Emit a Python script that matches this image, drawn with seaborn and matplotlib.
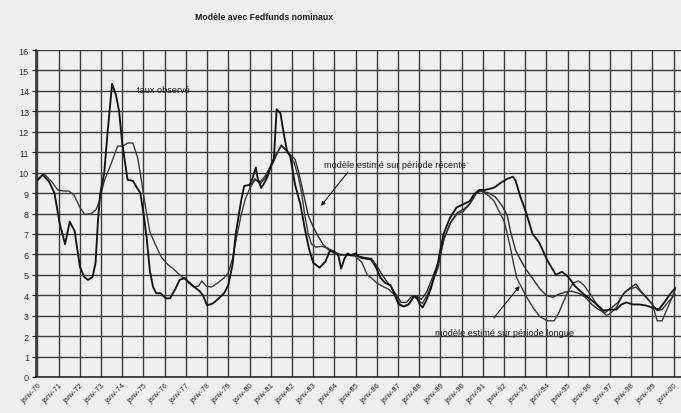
import matplotlib
matplotlib.use("Agg")
import matplotlib.pyplot as plt
import seaborn as sns
import pandas as pd

# (decimal year, rate in %) for each series
taux_observe = [
    (1970.0, 9.65), (1970.25, 9.9), (1970.55, 9.55), (1970.8, 9.0), (1971.05, 7.5),
    (1971.3, 6.5), (1971.52, 7.6), (1971.75, 7.15), (1972.0, 5.4), (1972.2, 4.9),
    (1972.38, 4.75), (1972.6, 4.9), (1972.74, 5.6), (1972.85, 7.6), (1972.95, 8.9),
    (1973.15, 10.0), (1973.3, 11.9), (1973.52, 14.35), (1973.7, 13.8), (1973.85, 13.0),
    (1974.0, 11.4), (1974.25, 9.65), (1974.5, 9.6), (1974.7, 9.25), (1974.85, 9.0),
    (1975.0, 8.0), (1975.15, 6.8), (1975.3, 5.2), (1975.45, 4.4), (1975.6, 4.1),
    (1975.8, 4.1), (1976.05, 3.85), (1976.25, 3.85), (1976.5, 4.3), (1976.7, 4.75),
    (1976.95, 4.85), (1977.15, 4.6), (1977.4, 4.4), (1977.65, 4.2), (1977.8, 4.0),
    (1978.0, 3.5), (1978.27, 3.6), (1978.5, 3.8), (1978.8, 4.1), (1979.0, 4.5),
    (1979.2, 5.5), (1979.35, 7.0), (1979.6, 8.6), (1979.75, 9.35), (1980.0, 9.4),
    (1980.15, 9.75), (1980.3, 10.25), (1980.38, 9.75), (1980.55, 9.25), (1980.7, 9.5),
    (1980.85, 9.8), (1981.0, 10.3), (1981.15, 10.7), (1981.28, 13.1), (1981.46, 12.9),
    (1981.6, 12.0), (1981.77, 11.05), (1981.92, 10.8), (1982.15, 9.4), (1982.4, 8.45),
    (1982.6, 7.3), (1982.8, 6.3), (1983.0, 5.6), (1983.3, 5.35), (1983.58, 5.65),
    (1983.8, 6.2), (1983.97, 6.15), (1984.12, 6.05), (1984.2, 5.9), (1984.32, 5.3),
    (1984.48, 5.8), (1984.63, 6.05), (1984.78, 5.95), (1985.0, 6.05), (1985.2, 5.85),
    (1985.42, 5.8), (1985.73, 5.75), (1985.95, 5.4), (1986.18, 4.85), (1986.4, 4.6),
    (1986.65, 4.5), (1986.88, 3.95), (1987.03, 3.55), (1987.27, 3.45), (1987.5, 3.55),
    (1987.76, 3.95), (1987.92, 3.85), (1988.03, 3.55), (1988.16, 3.4), (1988.32, 3.7),
    (1988.56, 4.35), (1988.87, 5.5), (1989.15, 7.0), (1989.46, 7.8), (1989.77, 8.3),
    (1990.08, 8.45), (1990.38, 8.6), (1990.6, 8.95), (1990.83, 9.15), (1991.08, 9.15),
    (1991.3, 9.2), (1991.54, 9.27), (1991.85, 9.5), (1992.16, 9.7), (1992.43, 9.8),
    (1992.55, 9.6), (1992.78, 8.8), (1993.03, 8.1), (1993.35, 7.0), (1993.65, 6.6),
    (1994.05, 5.7), (1994.45, 5.0), (1994.74, 5.15), (1995.03, 4.9), (1995.35, 4.45),
    (1995.76, 4.05), (1996.08, 3.8), (1996.38, 3.55), (1996.69, 3.25), (1997.0, 3.3),
    (1997.3, 3.3), (1997.54, 3.55), (1997.77, 3.65), (1998.08, 3.55), (1998.38, 3.55),
    (1998.69, 3.5), (1999.0, 3.4), (1999.3, 3.3), (1999.6, 3.7), (1999.83, 4.05),
    (2000.08, 4.35),
]

modele_longue = [
    (1970.0, 9.6), (1970.3, 9.95), (1970.72, 9.5), (1970.95, 9.15), (1971.26, 9.1),
    (1971.48, 9.1), (1971.72, 8.9), (1972.0, 8.3), (1972.23, 7.95), (1972.54, 8.0),
    (1972.77, 8.2), (1972.92, 8.6), (1973.15, 9.6), (1973.46, 10.4), (1973.78, 11.3),
    (1974.03, 11.3), (1974.26, 11.45), (1974.5, 11.45), (1974.73, 10.7), (1974.88, 9.75),
    (1975.05, 8.6), (1975.3, 7.1), (1975.55, 6.5), (1975.85, 5.85), (1976.15, 5.5),
    (1976.4, 5.3), (1976.65, 5.05), (1976.93, 4.8), (1977.15, 4.65), (1977.4, 4.4),
    (1977.6, 4.45), (1977.75, 4.7), (1977.95, 4.45), (1978.2, 4.4), (1978.5, 4.6),
    (1978.8, 4.85), (1979.0, 5.1), (1979.2, 5.8), (1979.4, 6.9), (1979.6, 7.9),
    (1979.8, 8.7), (1980.0, 9.2), (1980.25, 9.65), (1980.5, 9.55), (1980.75, 9.85),
    (1981.0, 10.35), (1981.25, 10.9), (1981.5, 11.3), (1981.7, 11.1), (1981.9, 10.85),
    (1982.1, 10.5), (1982.3, 9.8), (1982.46, 9.0), (1982.6, 7.95), (1982.77, 7.0),
    (1982.92, 6.5), (1983.15, 6.35), (1983.4, 6.4), (1983.7, 6.3), (1984.0, 6.1),
    (1984.3, 5.95), (1984.6, 6.0), (1985.0, 5.9), (1985.3, 5.6), (1985.55, 5.0),
    (1985.8, 4.8), (1986.0, 4.6), (1986.25, 4.45), (1986.55, 4.3), (1986.8, 4.05),
    (1986.95, 3.9), (1987.1, 3.55), (1987.3, 3.45), (1987.55, 3.6), (1987.75, 3.95),
    (1987.95, 3.75), (1988.15, 3.6), (1988.4, 4.05), (1988.65, 4.7), (1988.9, 5.35),
    (1989.15, 6.7), (1989.46, 7.5), (1989.77, 7.95), (1990.08, 8.1), (1990.38, 8.45),
    (1990.7, 9.0), (1990.92, 9.1), (1991.08, 9.0), (1991.3, 8.85), (1991.54, 8.6),
    (1991.77, 8.1), (1992.0, 7.65), (1992.16, 7.0), (1992.3, 6.35), (1992.46, 5.5),
    (1992.62, 4.8), (1992.8, 4.45), (1993.05, 3.95), (1993.4, 3.35), (1993.7, 2.95),
    (1994.05, 2.75), (1994.37, 2.75), (1994.59, 3.15), (1994.81, 3.7), (1995.03, 4.2),
    (1995.27, 4.6), (1995.52, 4.7), (1995.76, 4.5), (1996.08, 4.05), (1996.38, 3.55),
    (1996.69, 3.15), (1996.85, 3.0), (1997.0, 3.1), (1997.3, 3.4), (1997.62, 4.05),
    (1997.92, 4.3), (1998.23, 4.4), (1998.46, 4.15), (1998.69, 3.9), (1999.0, 3.55),
    (1999.23, 2.75), (1999.46, 2.75), (1999.62, 3.15), (1999.85, 3.7), (2000.08, 4.3),
]

modele_recente = [
    (1980.0, 9.3), (1980.25, 9.7), (1980.5, 9.45), (1980.75, 9.75), (1981.0, 10.25),
    (1981.25, 10.8), (1981.5, 11.35), (1981.7, 11.15), (1981.9, 10.9), (1982.15, 10.65),
    (1982.3, 10.1), (1982.54, 9.0), (1982.77, 7.9), (1983.0, 7.35), (1983.23, 6.9),
    (1983.46, 6.5), (1983.7, 6.25), (1984.0, 6.05), (1984.3, 6.0), (1984.6, 5.95),
    (1985.0, 5.95), (1985.4, 5.85), (1985.75, 5.8), (1986.0, 5.45), (1986.2, 5.1),
    (1986.45, 4.7), (1986.65, 4.45), (1986.9, 4.05), (1987.15, 3.65), (1987.4, 3.65),
    (1987.65, 3.95), (1987.9, 3.95), (1988.1, 3.8), (1988.35, 4.15), (1988.6, 4.8),
    (1988.9, 5.6), (1989.2, 6.85), (1989.5, 7.6), (1989.8, 8.05), (1990.1, 8.2),
    (1990.4, 8.5), (1990.7, 9.0), (1990.95, 9.15), (1991.1, 9.05), (1991.3, 9.0),
    (1991.6, 8.8), (1991.9, 8.4), (1992.16, 7.9), (1992.3, 7.15), (1992.55, 6.2),
    (1992.8, 5.7), (1993.05, 5.25), (1993.4, 4.75), (1993.7, 4.3), (1994.0, 4.0),
    (1994.3, 3.9), (1994.59, 4.05), (1994.88, 4.15), (1995.18, 4.2), (1995.52, 4.1),
    (1995.84, 3.9), (1996.15, 3.55), (1996.46, 3.3), (1996.77, 3.15), (1997.08, 3.4),
    (1997.38, 3.65), (1997.69, 4.15), (1998.0, 4.4), (1998.23, 4.55), (1998.46, 4.2),
    (1998.69, 3.95), (1999.0, 3.55), (1999.23, 3.25), (1999.46, 3.3), (1999.77, 3.7),
    (2000.08, 4.05),
]

years = list(range(1970, 2001))
year_labels = [f"janv-{y % 100:02d}" for y in years]
y_ticks = list(range(0, 17))

title = "Modèle avec Fedfunds nominaux"
label_obs = "taux observé"
label_rec = "modèle estimé sur période récente"
label_long = "modèle estimé sur période longue"

sns.set_style("white")
plt.rcParams["font.family"] = ["Liberation Sans", "DejaVu Sans"]

paper = "#efefef"
ink = "#1c1c1c"
grid_c = "#3a3a3a"

fig = plt.figure(figsize=(6.81, 4.14), dpi=100, facecolor=paper)
ax = fig.add_axes([36 / 681, 36 / 414, 645 / 681, 327 / 414])
ax.set_facecolor(paper)


def frame(points, name):
    return pd.DataFrame(points, columns=["date", "taux"]).assign(serie=name)


series = [
    (frame(modele_longue, label_long), "#3c3c3c", 1.0),
    (frame(modele_recente, label_rec), "#2e2e2e", 1.0),
    (frame(taux_observe, label_obs), "#151515", 1.35),
]
for df, col, lw in series:
    sns.lineplot(data=df, x="date", y="taux", ax=ax, color=col, lw=lw,
                 estimator=None, sort=False, legend=False, zorder=3)

ax.set_xlim(1969.93, 2000.35)
ax.set_ylim(0, 16)
ax.set_xticks(years)
ax.set_xticklabels(year_labels, rotation=45, ha="right", rotation_mode="anchor",
                   fontsize=5.4, color="#333333")
ax.set_yticks(y_ticks)
ax.set_yticklabels([str(v) for v in y_ticks], fontsize=6.6, color="#333333")
ax.tick_params(axis="y", length=3, width=0.8, color=ink, pad=2, left=True)
ax.tick_params(axis="x", length=0, pad=3)
ax.grid(True, color=grid_c, lw=1.0, zorder=1)
ax.set_axisbelow(True)
for side in ("top", "right"):
    ax.spines[side].set_visible(False)
for side in ("left", "bottom"):
    ax.spines[side].set_color(ink)
    ax.spines[side].set_linewidth(1.1)
ax.set_xlabel("")
ax.set_ylabel("")

fig.text(264 / 681, 1 - 17 / 414, title, ha="center", va="center",
         fontsize=6.3, fontweight="bold", color=ink)

ax.text(1974.7, 14.05, label_obs, fontsize=6.6, color=ink, ha="left", va="center", zorder=4)
ax.text(1983.5, 10.42, label_rec, fontsize=6.6, color=ink, ha="left", va="center", zorder=4)
ax.text(1988.76, 2.2, label_long, fontsize=6.6, color=ink, ha="left", va="center", zorder=4)

arrow = dict(arrowstyle="-|>", lw=0.8, color=ink, mutation_scale=6, shrinkA=0, shrinkB=0)
ax.annotate("", xy=(1983.37, 8.37), xytext=(1984.64, 10.03), arrowprops=arrow, zorder=4)
ax.annotate("", xy=(1992.74, 4.45), xytext=(1991.52, 2.89), arrowprops=arrow, zorder=4)

fig.savefig("out.png", dpi=100, facecolor=paper)
